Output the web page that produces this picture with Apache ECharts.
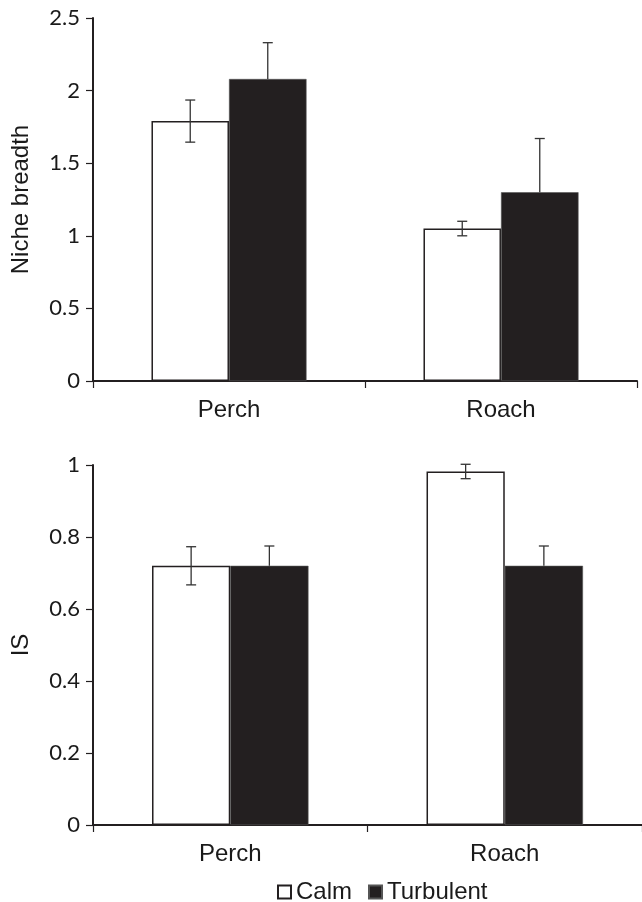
<!DOCTYPE html>
<html>
<head>
<meta charset="utf-8">
<script src="https://cdn.jsdelivr.net/npm/echarts@6/dist/echarts.min.js"></script>
<style>
html,body{margin:0;padding:0;background:#fff;}
#c{width:642px;height:902px;}
</style>
</head>
<body>
<div id="c"></div>
<script>
var categories = ['Perch', 'Roach'];
var seriesNames = ['Calm', 'Turbulent'];
// Panel 1: Niche breadth
var nicheCalm = [1.79, 1.05];
var nicheCalmErr = [0.145, 0.05];
var nicheTurb = [2.08, 1.30];
var nicheTurbErr = [0.25, 0.37];
// Panel 2: IS
var isCalm = [0.72, 0.982];
var isCalmErr = [0.053, 0.02];
var isTurb = [0.72, 0.72];
var isTurbErr = [0.055, 0.055];

var TICK_FONT = 'Lato';
var TEXT_FONT = 'Liberation Sans';
var CAT_GAP = 0.43;
var ink = '#231f20';
var txt = '#1a1a1a';

function errSeries(gridIdx, values, errs, sideSign, upperOnly) {
  var data = values.map(function (v, i) { return [i, v, v + errs[i], upperOnly ? v : v - errs[i]]; });
  return {
    type: 'custom',
    xAxisIndex: gridIdx, yAxisIndex: gridIdx,
    z: 10,
    silent: true,
    data: data,
    encode: { x: 0, y: [2, 3] },
    renderItem: function (params, api) {
      var band = api.size([1, 0])[0];
      var barW = band * (1 - CAT_GAP) / 2;
      var c = api.coord([api.value(0), api.value(2)]);
      var x = c[0] + sideSign * barW / 2;
      var yHi = c[1];
      var yLo = api.coord([api.value(0), api.value(3)])[1];
      var cap = 5;
      var st = { stroke: '#333', lineWidth: 1.3 };
      var children = [
        { type: 'line', shape: { x1: x, y1: yHi, x2: x, y2: yLo }, style: st },
        { type: 'line', shape: { x1: x - cap, y1: yHi, x2: x + cap, y2: yHi }, style: st }
      ];
      if (!upperOnly) children.push({ type: 'line', shape: { x1: x - cap, y1: yLo, x2: x + cap, y2: yLo }, style: st });
      return { type: 'group', children: children };
    }
  };
}

function xAx(gridIdx) {
  return {
    type: 'category', gridIndex: gridIdx, data: categories,
    axisLine: { lineStyle: { color: ink, width: 2 } },
    axisTick: { show: true, length: 7, lineStyle: { color: ink, width: 1.2 } },
    axisLabel: { color: txt, fontFamily: TEXT_FONT, fontSize: 24, margin: 17 }
  };
}
function yAx(gridIdx, max, interval, name, gap) {
  return {
    type: 'value', gridIndex: gridIdx, min: 0, max: max, interval: interval,
    name: name, nameLocation: 'middle', nameGap: gap,
    nameTextStyle: { color: txt, fontFamily: TEXT_FONT, fontSize: 24 },
    splitLine: { show: false },
    axisLine: { show: true, lineStyle: { color: ink, width: 2 } },
    axisTick: { show: true, length: 7, lineStyle: { color: ink, width: 1.2 } },
    axisLabel: { color: txt, fontFamily: TICK_FONT, fontSize: 22, margin: 13 }
  };
}

var chart = echarts.init(document.getElementById('c'), null, { renderer: 'canvas' });
chart.setOption({
  animation: false,
  backgroundColor: '#fff',
  legend: {
    top: 875, left: 272,
    icon: 'rect',
    itemWidth: 13, itemHeight: 13, itemGap: 16,
    textStyle: { color: txt, fontFamily: TEXT_FONT, fontSize: 24 },
    data: seriesNames
  },
  grid: [
    { left: 93, right: 5, top: 18, bottom: 521 },
    { left: 93, right: 0, top: 465, bottom: 77 }
  ],
  xAxis: [xAx(0), xAx(1)],
  yAxis: [yAx(0, 2.5, 0.5, 'Niche breadth', 60), yAx(1, 1, 0.2, 'IS', 60)],
  series: [
    { name: seriesNames[0], type: 'bar', xAxisIndex: 0, yAxisIndex: 0, data: nicheCalm, barGap: '0%', barCategoryGap: (CAT_GAP * 100) + '%',
      itemStyle: { color: '#fff', borderColor: ink, borderWidth: 1.5 } },
    { name: seriesNames[1], type: 'bar', xAxisIndex: 0, yAxisIndex: 0, data: nicheTurb, barGap: '0%', barCategoryGap: (CAT_GAP * 100) + '%',
      itemStyle: { color: ink, borderColor: '#555', borderWidth: 0.6 } },
    { name: seriesNames[0], type: 'bar', xAxisIndex: 1, yAxisIndex: 1, data: isCalm, barGap: '0%', barCategoryGap: (CAT_GAP * 100) + '%',
      itemStyle: { color: '#fff', borderColor: ink, borderWidth: 1.5 } },
    { name: seriesNames[1], type: 'bar', xAxisIndex: 1, yAxisIndex: 1, data: isTurb, barGap: '0%', barCategoryGap: (CAT_GAP * 100) + '%',
      itemStyle: { color: ink, borderColor: '#555', borderWidth: 0.6 } },
    errSeries(0, nicheCalm, nicheCalmErr, -1, false),
    errSeries(0, nicheTurb, nicheTurbErr, 1, true),
    errSeries(1, isCalm, isCalmErr, -1, false),
    errSeries(1, isTurb, isTurbErr, 1, true)
  ]
});
</script>
</body>
</html>
